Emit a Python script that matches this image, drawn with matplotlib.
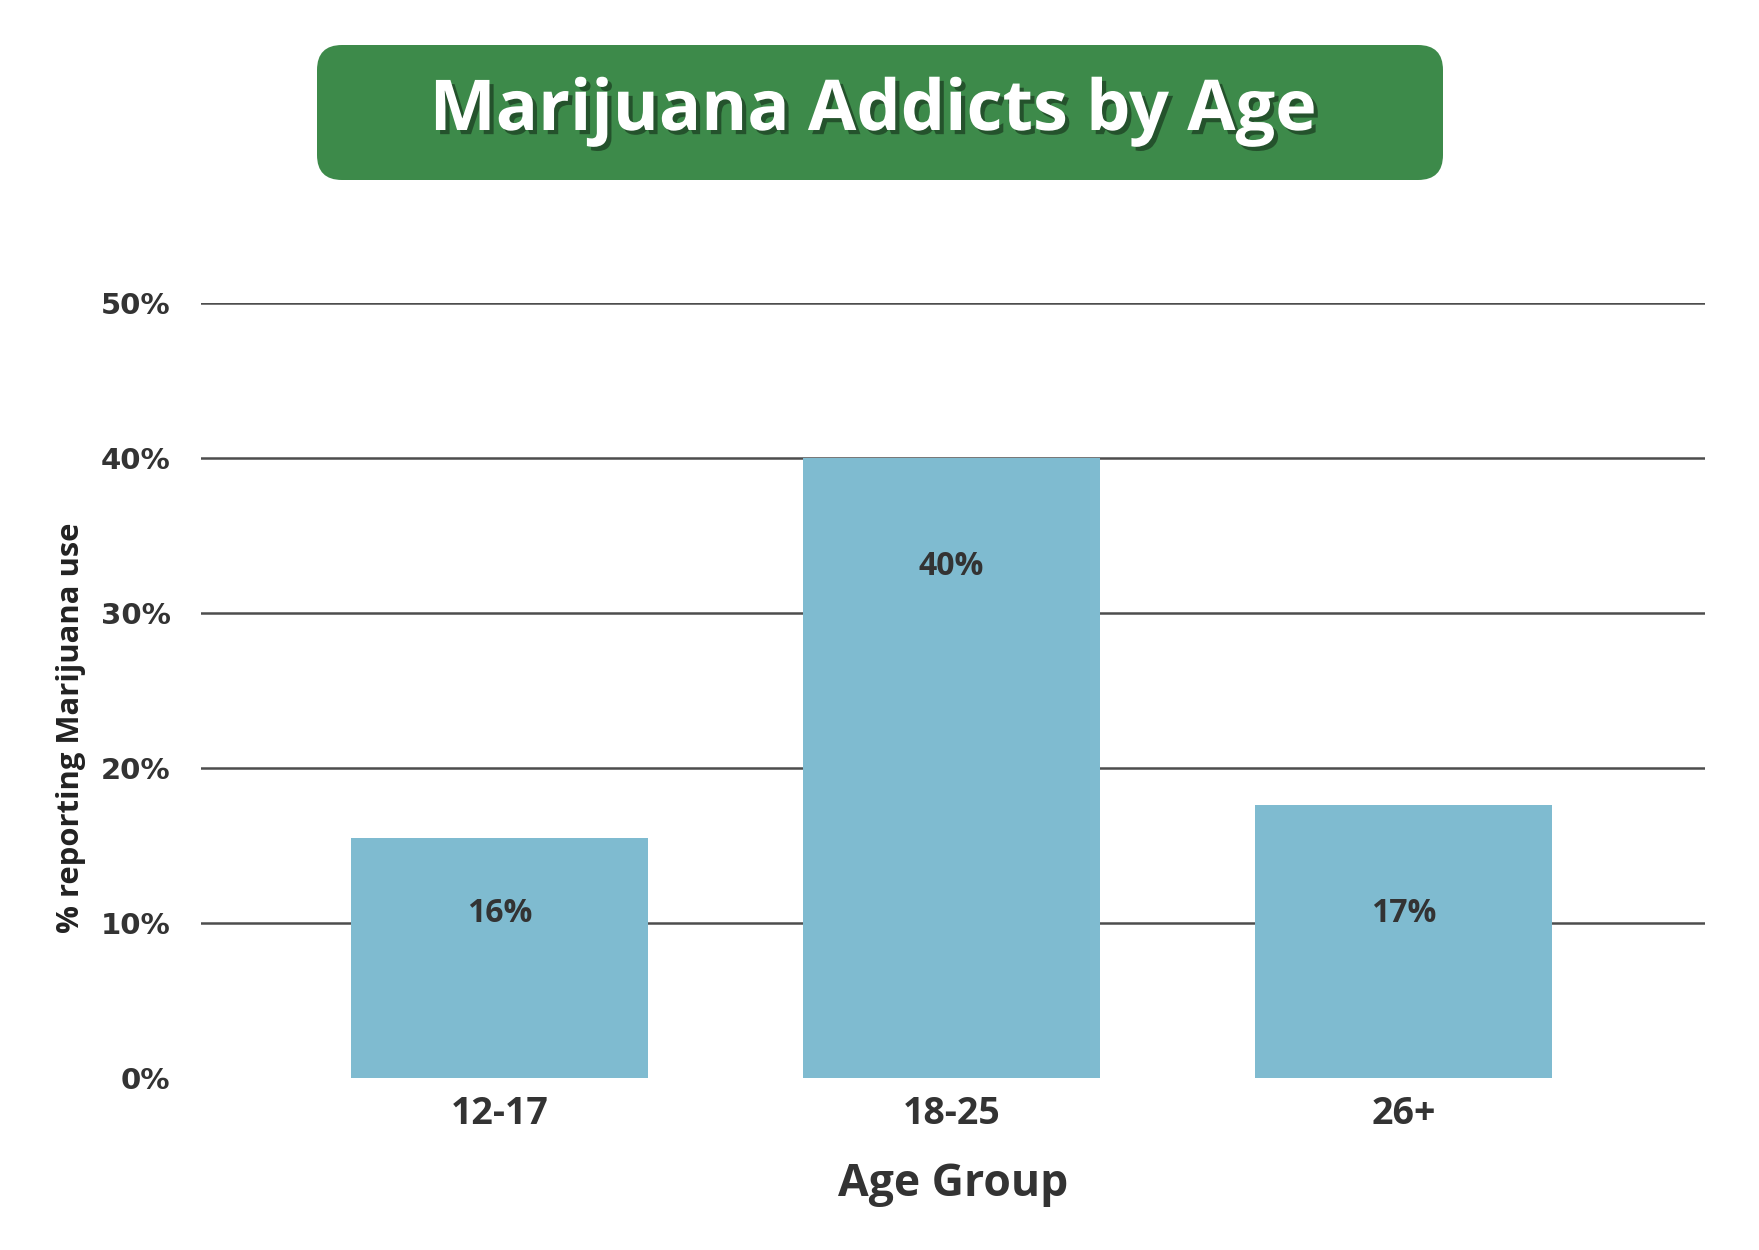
import matplotlib
matplotlib.use("Agg")
import matplotlib.pyplot as plt
from matplotlib.patches import FancyBboxPatch
import matplotlib.patheffects as pe

# ---- data ----
categories = ["12-17", "18-25", "26+"]
values = [15.5, 40.0, 17.6]
value_labels = ["16%", "40%", "17%"]
y_ticks = [0, 10, 20, 30, 40, 50]
y_tick_labels = ["0%", "10%", "20%", "30%", "40%", "50%"]
title = "Marijuana Addicts by Age"
x_title = "Age Group"
y_title = "% reporting Marijuana use"

# layout (label heights inside bars, in data units)
label_y = [10.6, 33.0, 10.6]

BAR = "#7FBBD0"
GREEN = "#3D8A4A"
TXT = "#333333"
GRID = "#4D4D4D"
COND = ["Open Sans", "DejaVu Sans"]

W, H = 1759, 1250
fig = plt.figure(figsize=(W / 100, H / 100), dpi=100)
fig.patch.set_facecolor("white")

# title banner in pixel space
bg = fig.add_axes([0, 0, 1, 1])
bg.set_xlim(0, W)
bg.set_ylim(H, 0)
bg.axis("off")
box = FancyBboxPatch((317, 45), 1443 - 317, 180 - 45,
                     boxstyle="round,pad=0,rounding_size=25",
                     facecolor=GREEN, edgecolor="none")
bg.add_patch(box)
bg.text(873, 130, title, ha="center", va="baseline", color="white",
        fontsize=50.5, fontweight="bold", family=COND,
        path_effects=[pe.SimplePatchShadow(offset=(3, -3), shadow_rgbFace="black", alpha=0.4),
                      pe.Normal()])

ax = fig.add_axes([201 / W, 172 / H, (1705 - 201) / W, (1078 - 303) / H])
ax.set_facecolor("none")
x = list(range(len(categories)))
ax.bar(x, values, width=0.656, color=BAR, zorder=3)
for t in y_ticks[1:]:
    ax.axhline(t, color=GRID, lw=1.8, zorder=1)

for xi, ly, lab in zip(x, label_y, value_labels):
    ax.text(xi, ly, lab, ha="center", va="center", color=TXT,
            fontsize=23, fontweight="bold", family=COND, zorder=4)

ax.set_xlim(-0.66, 2.667)
ax.set_ylim(0, 50)
ax.set_yticks(y_ticks)
ax.set_yticklabels(y_tick_labels, fontsize=21, fontweight="bold",
                   family=["DejaVu Sans"], color=TXT)
ax.set_xticks(x)
ax.set_xticklabels(categories, fontsize=27, fontweight="bold", family=COND, color=TXT)
ax.tick_params(axis="y", length=0, pad=22)
ax.tick_params(axis="x", length=0, pad=12)
for s in ax.spines.values():
    s.set_visible(False)

ax.set_xlabel(x_title, fontsize=32, fontweight="bold", family=COND, color=TXT)
ax.xaxis.set_label_coords(0.5, -0.138)
ax.xaxis.label.set_va("center")
ax.set_ylabel(y_title, fontsize=22.3, fontweight="bold", family=COND, color="#222222")
ax.yaxis.set_label_coords(-0.0866, 0.452)
ax.yaxis.label.set_va("center")

fig.savefig("out.png", dpi=100, facecolor="white")
